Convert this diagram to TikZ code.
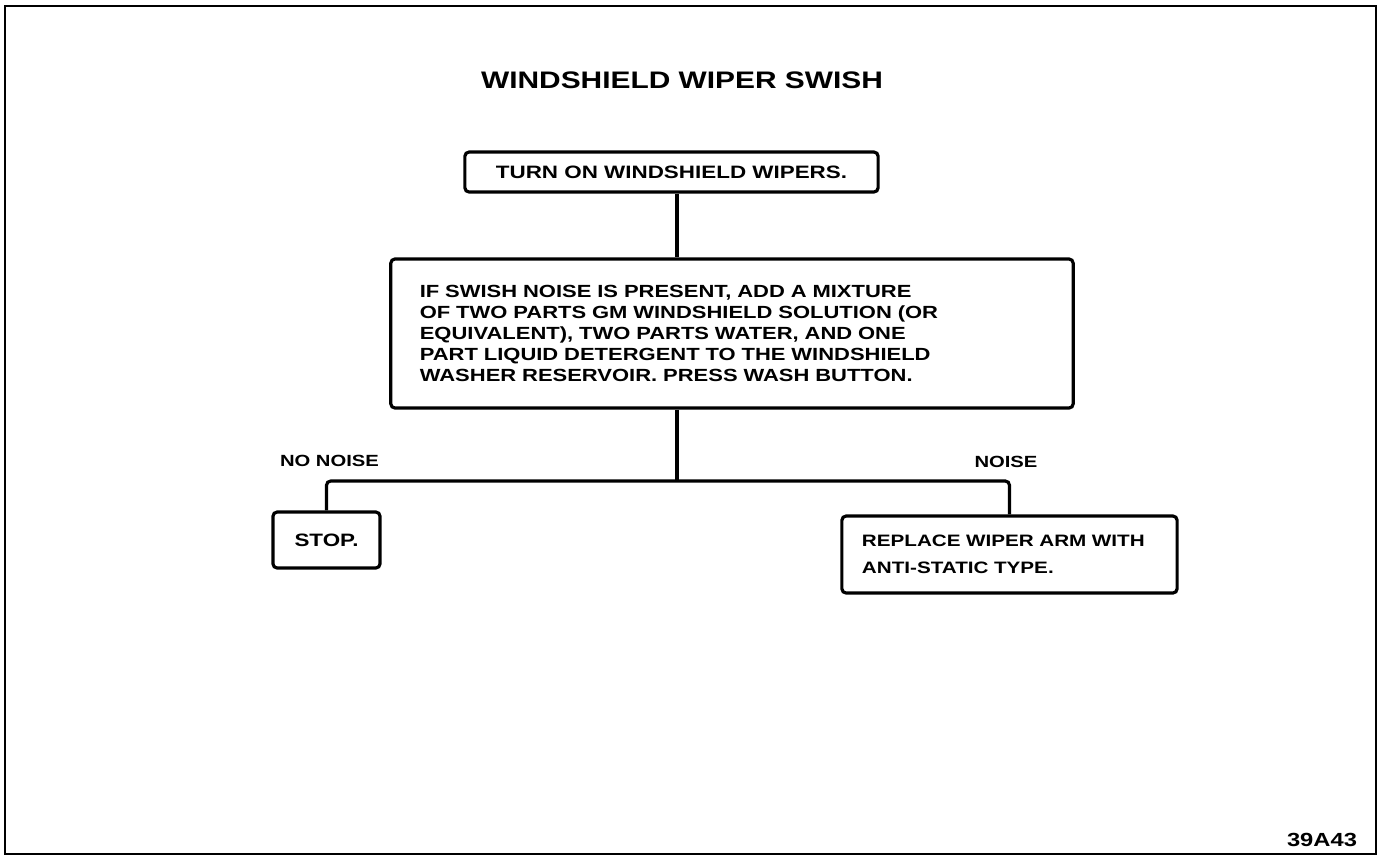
\documentclass[tikz,border=0pt]{standalone}
\usepackage{fontspec}
\setmainfont{Liberation Sans}[FakeStretch=1.25]

\begin{document}
\begin{tikzpicture}[
    x=0.01cm, y=-0.01cm,
    stepbox/.style={rectangle, draw, line width=0.9pt, rounded corners=1.2pt, inner sep=0pt, font=\bfseries\fontsize{5.1}{6}\selectfont},
    link/.style={line width=0.9pt, rounded corners=1.2pt},
    tag/.style={font=\bfseries\fontsize{4.6}{5}\selectfont, inner sep=0pt},
    heading/.style={font=\bfseries\fontsize{6.8}{8}\selectfont, inner sep=0pt}
]

% Page frame
\useasboundingbox (0,0) rectangle (1384,856);
\draw[line width=0.8pt] (5,6) rectangle (1376,854);

% Title
\node[heading] (title) at (682,80) {WINDSHIELD WIPER SWISH};

% Steps
\node[stepbox, minimum width=4.13cm, minimum height=0.4cm] (wipers) at (671.5,172) {TURN ON WINDSHIELD WIPERS.};
\node[stepbox, text width=6.24cm, inner xsep=0.29cm, minimum height=1.49cm, align=left, font=\bfseries\fontsize{5}{5.97}\selectfont] (mixture) at (732,333.5) {IF SWISH NOISE IS PRESENT, ADD A MIXTURE\\OF TWO PARTS GM WINDSHIELD SOLUTION (OR\\EQUIVALENT), TWO PARTS WATER, AND ONE\\PART LIQUID DETERGENT TO THE WINDSHIELD\\WASHER RESERVOIR. PRESS WASH BUTTON.};
\node[stepbox, minimum width=1.07cm, minimum height=0.56cm] (stop) at (326.5,540) {STOP.};
\node[stepbox, text width=2.95cm, inner xsep=0.2cm, minimum height=0.77cm, align=left, font=\bfseries\fontsize{4.7}{7.7}\selectfont] (replace) at (1009.5,554.5) {REPLACE WIPER ARM WITH\\ANTI-STATIC TYPE.};

% Connectors
\coordinate (fork) at (677,481);
\draw[link] (fork |- wipers.south) -- (fork |- mixture.north);
\draw[link] (fork |- mixture.south) -- (fork);
\draw[link] (stop.north) |- (fork) -| (replace.north);

% Branch labels
\node[tag] (nonoise) at (329.5,461) {NO NOISE};
\node[tag] (noise) at (1006,462) {NOISE};

% Figure number
\node[tag, font=\bfseries\fontsize{5.4}{6}\selectfont] (figno) at (1322,840) {39A43};

\end{tikzpicture}
\end{document}
